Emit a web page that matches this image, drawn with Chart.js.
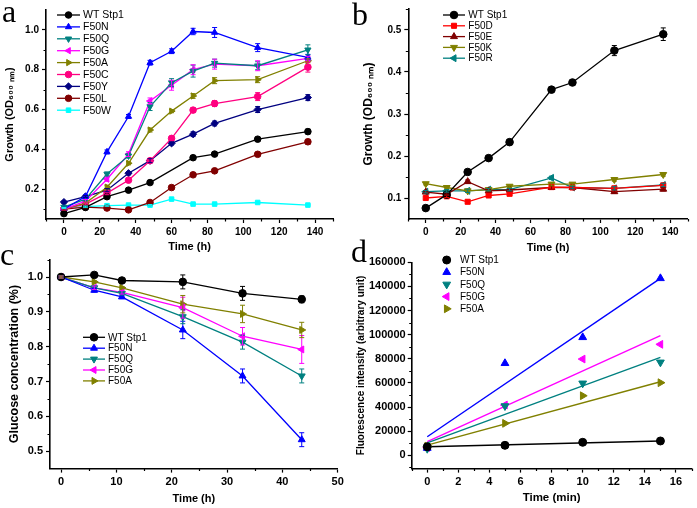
<!DOCTYPE html>
<html>
<head>
<meta charset="utf-8">
<script src="https://cdn.jsdelivr.net/npm/chart.js@4.4.0/dist/chart.umd.min.js"></script>
<style>
  html, body { margin: 0; padding: 0; background: #fff; }
  #wrap { position: relative; width: 697px; height: 508px; overflow: hidden; }
  canvas { position: absolute; }
  .lbl { position: absolute; font-family: "Liberation Serif", "Times New Roman", serif; font-size: 32px; line-height: 32px; color: #000; }
</style>
</head>
<body>
<div id="wrap">
  <canvas id="cA" width="350" height="258" style="left:0;top:0"></canvas>
  <canvas id="cB" width="347" height="258" style="left:350px;top:0"></canvas>
  <canvas id="cC" width="350" height="258" style="left:0;top:250px"></canvas>
  <canvas id="cD" width="347" height="258" style="left:350px;top:250px"></canvas>
  <div class="lbl" style="left:2px;top:-5px">a</div>
  <div class="lbl" style="left:352px;top:-2px">b</div>
  <div class="lbl" style="left:0px;top:238px">c</div>
  <div class="lbl" style="left:351px;top:235px">d</div>
</div>
<script>
// --- panel a: growth of F50 variants ---
const aTimes = [0, 12, 24, 36, 48, 60, 72, 84, 108, 136];
const aWT   = [0.077, 0.108, 0.162, 0.195, 0.233, null, 0.358, 0.376, 0.451, 0.489];
const aF50N = [0.100, 0.163, 0.387, 0.565, 0.835, 0.893, 0.992, 0.987, 0.911, 0.862];
const aF50Q = [0.110, 0.150, 0.276, 0.367, 0.615, 0.735, 0.793, 0.833, 0.820, 0.900];
const aF50G = [0.100, 0.140, 0.250, 0.376, 0.643, 0.722, 0.800, 0.828, 0.820, 0.857];
const aF50A = [0.100, 0.130, 0.210, 0.330, 0.497, 0.592, 0.668, 0.745, 0.750, 0.845];
const aF50C = [0.100, 0.125, 0.180, 0.245, 0.343, 0.455, 0.597, 0.630, 0.665, 0.813];
const aF50Y = [0.135, 0.163, 0.195, 0.280, 0.343, 0.430, 0.476, 0.530, 0.600, 0.660];
const aF50L = [0.100, 0.110, 0.105, 0.096, 0.133, 0.208, 0.272, 0.292, 0.375, 0.438];
const aF50W = [0.105, 0.112, 0.117, 0.120, 0.120, 0.150, 0.125, 0.125, 0.133, 0.120];
const aWTErr   = [0.005, 0.005, 0.006, 0.005, 0.006, 0, 0.008, 0.008, 0.010, 0.012];
const aF50NErr = [0.005, 0.008, 0.010, 0.010, 0.012, 0.012, 0.016, 0.025, 0.020, 0.015];
const aF50QErr = [0.005, 0.008, 0.010, 0.010, 0.020, 0.020, 0.030, 0.020, 0.020, 0.025];
const aF50GErr = [0.005, 0.008, 0.010, 0.012, 0.015, 0.025, 0.025, 0.025, 0.025, 0.010];
const aF50AErr = [0.005, 0.005, 0.010, 0.008, 0.010, 0.008, 0.012, 0.015, 0.015, 0.010];
const aF50CErr = [0.005, 0.005, 0.008, 0.008, 0.010, 0.010, 0.012, 0.015, 0.020, 0.025];
const aF50YErr = [0.005, 0.005, 0.008, 0.008, 0.010, 0.008, 0.012, 0.012, 0.015, 0.015];
const aF50LErr = [0.005, 0.005, 0.005, 0.005, 0.008, 0.008, 0.008, 0.008, 0.010, 0.012];
const aF50WErr = [0.003, 0.003, 0.003, 0.003, 0.003, 0.004, 0.003, 0.003, 0.004, 0.003];
const aXTicks = [0, 20, 40, 60, 80, 100, 120, 140];
const aXMinor = [-10, 10, 30, 50, 70, 90, 110, 130, 150];
const aYTicks = [0.2, 0.4, 0.6, 0.8, 1.0];
const aYMinor = [0.1, 0.3, 0.5, 0.7, 0.9];

// --- panel b ---
const bTimes = [0, 12, 24, 36, 48, 72, 84, 108, 136];
const bWT   = [0.076, 0.108, 0.162, 0.195, 0.233, 0.358, 0.375, 0.451, 0.490];
const bF50D = [0.100, 0.104, 0.091, 0.106, 0.110, 0.126, 0.125, 0.123, 0.130];
const bF50E = [0.114, 0.109, 0.139, 0.117, 0.119, 0.125, 0.125, 0.115, 0.121];
const bF50K = [0.134, 0.125, 0.117, 0.120, 0.128, 0.133, 0.133, 0.144, 0.156];
const bF50R = [0.115, 0.117, 0.117, 0.120, 0.120, 0.148, 0.125, 0.123, 0.131];
const bWTErr    = [0.003, 0.003, 0.004, 0.004, 0.004, 0.006, 0.006, 0.012, 0.015];
const bSmallErr = [0.003, 0.003, 0.004, 0.003, 0.003, 0.004, 0.003, 0.004, 0.004];
const bXTicks = [0, 20, 40, 60, 80, 100, 120, 140];
const bXMinor = [-10, 10, 30, 50, 70, 90, 110, 130, 150];
const bYTicks = [0.1, 0.2, 0.3, 0.4, 0.5];
const bYMinor = [0.15, 0.25, 0.35, 0.45, 0.55];

// --- panel c: glucose ---
const cTimes = [0, 6, 11, 22, 32.8, 43.5];
const cWT   = [1.000, 1.006, 0.990, 0.986, 0.953, 0.936];
const cF50N = [1.000, 0.962, 0.943, 0.848, 0.716, 0.533];
const cF50Q = [1.000, 0.969, 0.953, 0.886, 0.813, 0.716];
const cF50G = [1.000, 0.969, 0.956, 0.912, 0.830, 0.792];
const cF50A = [1.000, 0.986, 0.969, 0.922, 0.894, 0.848];
const cWTErr   = [0.003, 0.003, 0.003, 0.020, 0.020, 0.010];
const cF50NErr = [0.003, 0.005, 0.005, 0.025, 0.020, 0.020];
const cF50QErr = [0.003, 0.005, 0.005, 0.020, 0.020, 0.020];
const cF50GErr = [0.003, 0.005, 0.005, 0.030, 0.025, 0.040];
const cF50AErr = [0.003, 0.003, 0.003, 0.025, 0.025, 0.022];
const cXTicks = [0, 10, 20, 30, 40, 50];
const cXMinor = [5, 15, 25, 35, 45];
const cYTicks = [0.5, 0.6, 0.7, 0.8, 0.9, 1.0];
const cYMinor = [0.55, 0.65, 0.75, 0.85, 0.95, 1.05];

// --- panel d: fluorescence ---
const dTimes = [0, 5, 10, 15];
const dWT   = [7100, 8300, 10800, 11900];
const dF50N = [6000, 76300, 97800, 146700];
const dF50Q = [5500, 40900, 59700, 77100];
const dF50G = [6500, 41700, 79800, 92000];
const dF50A = [7700, 26500, 49400, 60200];
const dFitTimes = [0, 15];
const dWTFit   = [7100, 11900];
const dF50NFit = [15400, 146700];
const dF50QFit = [10400, 81200];
const dF50GFit = [11300, 99200];
const dF50AFit = [8500, 61000];
const dXTicks = [0, 2, 4, 6, 8, 10, 12, 14, 16];
const dXMinor = [-1, 1, 3, 5, 7, 9, 11, 13, 15, 17];
const dYTicks = [0, 20000, 40000, 60000, 80000, 100000, 120000, 140000, 160000];
const dYMinor = [-10000, 10000, 30000, 50000, 70000, 90000, 110000, 130000, 150000];

const FONT = '"Liberation Sans", Arial, sans-serif';
const C = {
  black: '#000000', blue: '#0000ff', teal: '#008080', magenta: '#ff00ff',
  olive: '#808000', pink: '#ff0080', navy: '#000080', wine: '#800000',
  cyan: '#00ffff', red: '#ff0000'
};

function pts(times, vals) {
  return times.map((t, i) => ({ x: t, y: vals[i] }));
}

function series(label, times, vals, errs, color, shape, rot, r, extra) {
  return Object.assign({
    label: label, data: pts(times, vals), errors: errs,
    borderColor: color, backgroundColor: color,
    pointStyle: shape, pointRotation: rot, pointRadius: r, pointBorderWidth: 1,
    borderWidth: 1.3, showLine: true, spanGaps: true, fill: false
  }, extra || {});
}

function fitLine(times, vals, color) {
  return {
    label: '', data: pts(times, vals), noLegend: true,
    borderColor: color, backgroundColor: color, borderWidth: 1.4,
    pointRadius: 0, showLine: true, fill: false
  };
}

function axis(o) {
  return {
    type: 'linear', min: o.min, max: o.max,
    afterBuildTicks: s => { s.ticks = o.ticks.map(v => ({ value: v })); },
    afterFit: s => { if (o.isX) s.height = o.fit; else s.width = o.fit; },
    border: { display: true, color: '#000', width: 1.6 },
    grid: { display: true, drawOnChartArea: false, drawTicks: true, tickLength: 4, tickColor: '#000', tickWidth: 1.2 },
    ticks: {
      color: '#000', padding: o.tickPad, maxRotation: 0, autoSkip: false,
      font: { family: FONT, size: o.size, weight: 'bold' }, callback: o.fmt
    },
    title: {
      display: true, text: o.title, color: '#000', padding: o.titlePad,
      font: { family: FONT, size: o.titleSize, weight: 'bold' }
    }
  };
}

// error bars with caps
const errorBars = {
  id: 'errorBars',
  afterDatasetsDraw(chart) {
    const { ctx } = chart;
    const xs = chart.scales.x, ys = chart.scales.y;
    chart.data.datasets.forEach(ds => {
      if (!ds.errors) return;
      ctx.save();
      ctx.strokeStyle = ds.borderColor;
      ctx.lineWidth = 1;
      ctx.beginPath();
      ds.data.forEach((p, i) => {
        const e = ds.errors[i];
        if (p.y == null || !e) return;
        const px = xs.getPixelForValue(p.x);
        const y1 = ys.getPixelForValue(p.y - e), y2 = ys.getPixelForValue(p.y + e);
        ctx.moveTo(px, y1); ctx.lineTo(px, y2);
        ctx.moveTo(px - 2.5, y1); ctx.lineTo(px + 2.5, y1);
        ctx.moveTo(px - 2.5, y2); ctx.lineTo(px + 2.5, y2);
      });
      ctx.stroke();
      ctx.restore();
    });
  }
};

// short outward minor ticks
const minorTicks = {
  id: 'minorTicks',
  afterDraw(chart, args, o) {
    const { ctx, chartArea: a } = chart;
    const xs = chart.scales.x, ys = chart.scales.y;
    ctx.save();
    ctx.strokeStyle = '#000';
    ctx.lineWidth = 1.2;
    ctx.beginPath();
    (o.x || []).forEach(v => {
      const px = Math.round(xs.getPixelForValue(v)) + 0.5;
      ctx.moveTo(px, a.bottom); ctx.lineTo(px, a.bottom + 2.5);
    });
    (o.y || []).forEach(v => {
      const py = Math.round(ys.getPixelForValue(v)) + 0.5;
      ctx.moveTo(a.left, py); ctx.lineTo(a.left - 2.5, py);
    });
    ctx.stroke();
    ctx.restore();
  }
};

// legend drawn inside the plot like the original
const panelLegend = {
  id: 'panelLegend',
  afterDraw(chart, args, o) {
    if (o.y0 === undefined) return;
    const ctx = chart.ctx;
    ctx.save();
    ctx.font = o.size + 'px ' + FONT;
    ctx.textBaseline = 'middle';
    let row = 0;
    chart.data.datasets.forEach(ds => {
      if (ds.noLegend) return;
      const y = o.y0 + row * o.dy;
      row++;
      ctx.strokeStyle = ds.borderColor;
      ctx.fillStyle = ds.backgroundColor;
      if (o.line) {
        ctx.lineWidth = ds.borderWidth;
        ctx.beginPath(); ctx.moveTo(o.x0, y); ctx.lineTo(o.x1, y); ctx.stroke();
      }
      ctx.lineWidth = ds.pointBorderWidth;
      Chart.helpers.drawPoint(ctx, {
        pointStyle: ds.pointStyle, radius: ds.pointRadius,
        rotation: ds.pointRotation, borderWidth: ds.pointBorderWidth
      }, o.mx, y);
      ctx.fillStyle = '#000';
      ctx.fillText(ds.label, o.tx, y + 0.5);
    });
    ctx.restore();
  }
};

Chart.register(errorBars, minorTicks, panelLegend);

function makeChart(id, cfg) {
  return new Chart(document.getElementById(id), {
    type: 'scatter',
    data: { datasets: cfg.datasets },
    options: {
      responsive: false, animation: false, devicePixelRatio: 1,
      layout: { padding: { top: cfg.top, right: cfg.right, left: 0, bottom: 0 } },
      plugins: {
        legend: { display: false }, tooltip: { enabled: false },
        panelLegend: cfg.legend, minorTicks: cfg.minor
      },
      scales: { x: cfg.x, y: cfg.y }
    }
  });
}

const f1 = v => v.toFixed(1);
const fInt = v => String(v);

makeChart('cA', {
  top: 10, right: 17,
  datasets: [
    series('WT Stp1', aTimes, aWT, aWTErr, C.black, 'circle', 0, 3.3),
    series('F50N', aTimes, aF50N, aF50NErr, C.blue, 'triangle', 0, 3.6),
    series('F50Q', aTimes, aF50Q, aF50QErr, C.teal, 'triangle', 180, 3.6),
    series('F50G', aTimes, aF50G, aF50GErr, C.magenta, 'triangle', -90, 3.6),
    series('F50A', aTimes, aF50A, aF50AErr, C.olive, 'triangle', 90, 3.6),
    series('F50C', aTimes, aF50C, aF50CErr, C.pink, 'circle', 0, 3.3),
    series('F50Y', aTimes, aF50Y, aF50YErr, C.navy, 'rectRot', 0, 3.6),
    series('F50L', aTimes, aF50L, aF50LErr, C.wine, 'circle', 0, 3.3),
    series('F50W', aTimes, aF50W, aF50WErr, C.cyan, 'rect', 0, 3.2)
  ],
  x: axis({ isX: true, min: -10, max: 150, ticks: aXTicks, fmt: fInt, size: 10, tickPad: 3, fit: 39,
            title: 'Time (h)', titleSize: 11, titlePad: { top: 0, bottom: 4.4 } }),
  y: axis({ isX: false, min: 0.05, max: 1.1, ticks: aYTicks, fmt: f1, size: 10, tickPad: 3, fit: 46,
            title: 'Growth (OD₆₀₀ ₙₘ)', titleSize: 11, titlePad: { top: 3.4, bottom: 0 } }),
  minor: { x: aXMinor, y: aYMinor },
  legend: { line: true, x0: 57, x1: 80, mx: 68.5, tx: 83, y0: 15, dy: 11.9, size: 10.5 }
});

makeChart('cB', {
  top: 9, right: 9.3,
  datasets: [
    series('WT Stp1', bTimes, bWT, bWTErr, C.black, 'circle', 0, 3.8),
    series('F50D', bTimes, bF50D, bSmallErr, C.red, 'rect', 0, 3.6),
    series('F50E', bTimes, bF50E, bSmallErr, C.wine, 'triangle', 0, 4),
    series('F50K', bTimes, bF50K, bSmallErr, C.olive, 'triangle', 180, 4),
    series('F50R', bTimes, bF50R, bSmallErr, C.teal, 'triangle', -90, 4)
  ],
  x: axis({ isX: true, min: -10, max: 150, ticks: bXTicks, fmt: fInt, size: 10, tickPad: 3, fit: 39,
            title: 'Time (h)', titleSize: 11, titlePad: { top: 0, bottom: 3.1 } }),
  y: axis({ isX: false, min: 0.05, max: 0.55, ticks: bYTicks, fmt: f1, size: 10, tickPad: 3, fit: 58.3,
            title: 'Growth (OD₆₀₀ ₙₘ)', titleSize: 12, titlePad: { top: 11.8, bottom: 0 } }),
  minor: { x: bXMinor, y: bYMinor },
  legend: { line: true, x0: 93, x1: 115, mx: 104, tx: 118.3, y0: 15, dy: 10.8, size: 10 }
});

makeChart('cC', {
  top: 7.4, right: 12.3,
  datasets: [
    series('WT Stp1', cTimes, cWT, cWTErr, C.black, 'circle', 0, 3.8),
    series('F50N', cTimes, cF50N, cF50NErr, C.blue, 'triangle', 0, 4),
    series('F50Q', cTimes, cF50Q, cF50QErr, C.teal, 'triangle', 180, 4),
    series('F50G', cTimes, cF50G, cF50GErr, C.magenta, 'triangle', -90, 4),
    series('F50A', cTimes, cF50A, cF50AErr, C.olive, 'triangle', 90, 4)
  ],
  x: axis({ isX: true, min: -2, max: 50, ticks: cXTicks, fmt: fInt, size: 11, tickPad: 3, fit: 39.4,
            title: 'Time (h)', titleSize: 11, titlePad: { top: 0, bottom: 2.1 } }),
  y: axis({ isX: false, min: 0.45, max: 1.05, ticks: cYTicks, fmt: f1, size: 11, tickPad: 3, fit: 50,
            title: 'Glucose concentration (%)', titleSize: 12.5, titlePad: { top: 7.5, bottom: 0 } }),
  minor: { x: cXMinor, y: cYMinor },
  legend: { line: true, x0: 83, x1: 105, mx: 94, tx: 108, y0: 87.3, dy: 10.9, size: 10 }
});

makeChart('cD', {
  top: 12.3, right: 5,
  datasets: [
    series('WT Stp1', dTimes, dWT, null, C.black, 'circle', 0, 4, { showLine: false }),
    series('F50N', dTimes, dF50N, null, C.blue, 'triangle', 0, 4.5, { showLine: false }),
    series('F50Q', dTimes, dF50Q, null, C.teal, 'triangle', 180, 4.5, { showLine: false }),
    series('F50G', dTimes, dF50G, null, C.magenta, 'triangle', -90, 4.5, { showLine: false }),
    series('F50A', dTimes, dF50A, null, C.olive, 'triangle', 90, 4.5, { showLine: false }),
    fitLine(dFitTimes, dWTFit, C.black),
    fitLine(dFitTimes, dF50NFit, C.blue),
    fitLine(dFitTimes, dF50QFit, C.teal),
    fitLine(dFitTimes, dF50GFit, C.magenta),
    fitLine(dFitTimes, dF50AFit, C.olive)
  ],
  x: axis({ isX: true, min: -1, max: 17, ticks: dXTicks, fmt: fInt, size: 11, tickPad: 3, fit: 39.4,
            title: 'Time (min)', titleSize: 11.5, titlePad: { top: 0, bottom: 2.8 } }),
  y: axis({ isX: false, min: -11000, max: 160000, ticks: dYTicks, fmt: fInt, size: 11, tickPad: 2, fit: 61.7,
            title: 'Fluorescence intensity (arbitrary unit)', titleSize: 10, titlePad: { top: 5.7, bottom: 0 } }),
  minor: { x: dXMinor, y: dYMinor },
  legend: { line: false, mx: 96.7, tx: 110, y0: 10, dy: 12.2, size: 10 }
});
</script>
</body>
</html>
